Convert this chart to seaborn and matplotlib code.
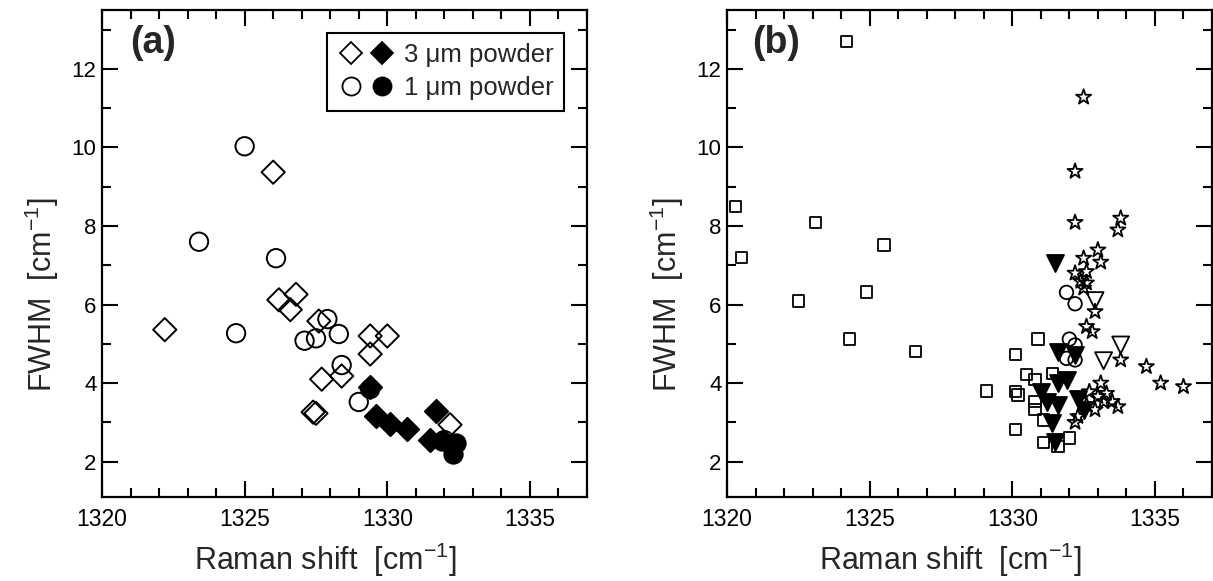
import matplotlib
matplotlib.use("Agg")
import matplotlib.pyplot as plt
import seaborn as sns
from matplotlib.lines import Line2D
from matplotlib.legend_handler import HandlerTuple
from matplotlib.ticker import MultipleLocator


# Panel (a): 3 um and 1 um powders
d3_open_x = [1326.0, 1326.2, 1326.8, 1326.6, 1322.2, 1327.6, 1329.4, 1330.0,
             1329.4, 1327.7, 1328.4, 1327.4, 1327.5, 1332.2]
d3_open_y = [9.37, 6.12, 6.26, 5.87, 5.36, 5.58, 5.20, 5.20,
             4.74, 4.10, 4.18, 3.26, 3.23, 2.94]
d3_fill_x = [1329.4, 1329.6, 1330.1, 1330.7, 1331.7, 1331.5]
d3_fill_y = [3.90, 3.17, 2.96, 2.83, 3.30, 2.55]

d1_open_x = [1325.0, 1323.4, 1326.1, 1324.7, 1327.9, 1327.1, 1327.5, 1328.3,
             1328.4, 1329.4, 1329.0, 1332.0]
d1_open_y = [10.03, 7.60, 7.18, 5.27, 5.63, 5.08, 5.14, 5.25,
             4.46, 3.85, 3.52, 2.55]
d1_fill_x = [1331.9, 1332.4, 1332.3]
d1_fill_y = [2.53, 2.47, 2.20]

# Panel (b): other data sets
sq_x = [1324.2, 1320.3, 1323.1, 1325.5, 1320.5, 1322.5, 1324.9, 1324.3,
        1326.6, 1329.1, 1330.1, 1330.2, 1330.5, 1330.8, 1331.4, 1330.8,
        1330.8, 1331.1, 1330.1, 1331.1, 1331.6, 1332.0, 1330.9, 1330.1]
sq_y = [12.70, 8.50, 8.09, 7.52, 7.19, 6.09, 6.32, 5.12,
        4.80, 3.80, 3.78, 3.70, 4.21, 4.10, 4.25, 3.53,
        3.32, 3.06, 2.81, 2.48, 2.38, 2.60, 5.12, 4.72]

tri_fill_x = [1331.5, 1331.6, 1332.2, 1331.0, 1331.6, 1331.9, 1331.2, 1331.6,
              1332.3, 1332.5, 1331.4, 1331.5]
tri_fill_y = [7.05, 4.80, 4.72, 3.78, 4.00, 4.08, 3.53, 3.44,
              3.60, 3.32, 2.98, 2.51]

tri_open_x = [1332.9, 1333.8, 1333.2]
tri_open_y = [6.10, 4.97, 4.57]

circ_x = [1331.9, 1332.2, 1332.0, 1332.2, 1331.9, 1332.2]
circ_y = [6.31, 6.02, 5.12, 4.97, 4.63, 4.59]

star_x = [1332.5, 1332.2, 1332.2, 1333.8, 1333.7, 1333.0, 1332.5, 1333.1,
          1332.2, 1332.6, 1332.4, 1332.6, 1332.5, 1332.9, 1332.6, 1332.8,
          1333.8, 1334.7, 1335.2, 1336.0, 1333.1, 1332.7, 1333.0, 1333.3,
          1333.2, 1333.7, 1332.9, 1332.3, 1332.6, 1333.5, 1332.2]
star_y = [11.28, 9.39, 8.09, 8.20, 7.90, 7.39, 7.18, 7.08,
          6.80, 6.84, 6.59, 6.55, 6.42, 5.82, 5.44, 5.31,
          4.59, 4.42, 4.00, 3.91, 4.00, 3.78, 3.66, 3.74,
          3.53, 3.40, 3.32, 3.15, 3.44, 3.53, 3.00]

legend_labels = ["3 \u03bcm powder", "1 \u03bcm powder"]


def draw(ax, x, y, marker, s, filled, lw):
    sns.scatterplot(x=x, y=y, ax=ax, marker=marker, s=s, color="black",
                    linewidth=lw, legend=False)
    coll = ax.collections[-1]
    coll.set_edgecolor("black")
    coll.set_facecolor("black" if filled else "none")
    coll.set_linewidth(lw)


def style_axes(ax, tag, tag_x):
    ax.set_xlim(1320, 1337)
    ax.set_ylim(1.1, 13.5)
    ax.xaxis.set_major_locator(MultipleLocator(5))
    ax.xaxis.set_minor_locator(MultipleLocator(1))
    ax.yaxis.set_major_locator(MultipleLocator(2))
    ax.yaxis.set_minor_locator(MultipleLocator(1))
    ax.tick_params(which="both", direction="in", top=True, right=True,
                   width=1.5, colors="black")
    ax.tick_params(which="major", length=11.5)
    ax.tick_params(which="minor", length=6.5)
    ax.tick_params(axis="y", labelsize=16, pad=4)
    ax.tick_params(axis="x", labelsize=16.5, pad=8)
    for sp in ax.spines.values():
        sp.set_linewidth(1.6)
        sp.set_color("black")
        sp.set_visible(True)
    ax.set_xlabel("Raman shift  [cm$^{-1}$]", fontsize=22)
    ax.set_ylabel("FWHM  [cm$^{-1}$]", fontsize=22)
    ax.xaxis.set_label_coords(0.46, -0.09)
    ax.yaxis.set_label_coords(-0.085, 0.415)
    ax.text(tag_x, 0.97, tag, transform=ax.transAxes, fontsize=27,
            fontweight="bold", va="top", ha="left")


sns.set_style("ticks")
plt.rcParams["font.family"] = ["Liberation Sans", "DejaVu Sans"]
plt.rcParams["mathtext.fontset"] = "custom"
plt.rcParams["mathtext.rm"] = "Liberation Sans"
plt.rcParams["mathtext.it"] = "Liberation Sans:italic"

fig = plt.figure(figsize=(12.13, 5.81), dpi=100)
fig.patch.set_facecolor("white")
ax1 = fig.add_axes([102 / 1213, 84 / 581, 485 / 1213, 487 / 581])
ax2 = fig.add_axes([727 / 1213, 84 / 581, 485 / 1213, 487 / 581])

# (a)
draw(ax1, d3_open_x, d3_open_y, "D", 140, False, 1.4)
draw(ax1, d3_fill_x, d3_fill_y, "D", 140, True, 1.4)
draw(ax1, d1_open_x, d1_open_y, "o", 175, False, 1.4)
draw(ax1, d1_fill_x, d1_fill_y, "o", 175, True, 1.4)
style_axes(ax1, "(a)", 0.058)

h3 = (Line2D([], [], ls="", marker="D", ms=11, mfc="none", mec="black", mew=1.3),
      Line2D([], [], ls="", marker="D", ms=11, mfc="black", mec="black", mew=1.3))
h1 = (Line2D([], [], ls="", marker="o", ms=13, mfc="none", mec="black", mew=1.3),
      Line2D([], [], ls="", marker="o", ms=13, mfc="black", mec="black", mew=1.3))
leg = ax1.legend([h3, h1], legend_labels,
                 handler_map={tuple: HandlerTuple(ndivide=None, pad=0.15)},
                 loc="upper right", fontsize=18.5, frameon=True, fancybox=False,
                 framealpha=1, edgecolor="black", borderpad=0.4,
                 handlelength=2.3, handletextpad=0.3, labelspacing=0.35,
                 borderaxespad=0.9)
leg.get_frame().set_linewidth(1.5)

# (b)
draw(ax2, sq_x, sq_y, "s", 66, False, 1.3)
draw(ax2, tri_fill_x, tri_fill_y, "v", 150, True, 1.3)
draw(ax2, circ_x, circ_y, "o", 95, False, 1.3)
draw(ax2, tri_open_x, tri_open_y, "v", 150, False, 1.3)
draw(ax2, star_x, star_y, "*", 130, False, 1.3)
style_axes(ax2, "(b)", 0.051)

fig.savefig("out.png", dpi=100, facecolor="white")
